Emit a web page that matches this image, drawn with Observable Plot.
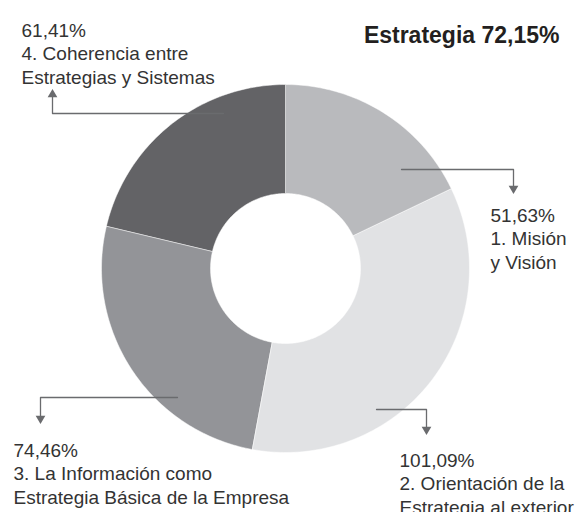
<!DOCTYPE html>
<html>
<head>
<meta charset="utf-8">
<script src="https://cdn.jsdelivr.net/npm/d3@7"></script>
<script src="https://cdn.jsdelivr.net/npm/@observablehq/plot@0.6"></script>
<style>
  html, body { margin: 0; padding: 0; background: #fff; }
  #chart svg { display: block; }
</style>
</head>
<body>
<div id="chart"></div>
<script>
// ---- data ----
const categories = [
  "1. Misión\ny Visión",
  "2. Orientación de la\nEstrategia al exterior",
  "3. La Información como\nEstrategia Básica de la Empresa",
  "4. Coherencia entre\nEstrategias y Sistemas"
];
const values = [51.63, 101.09, 74.46, 61.41];
const valueLabels = ["51,63%", "101,09%", "74,46%", "61,41%"];
const titleText = "Estrategia 72,15%";

// ---- styles / layout ----
const colors = ["#b9babd", "#e1e2e4", "#939498", "#636366"];
const W = 577, H = 512;
const cx = 285, cy = 268, R = 184, r0 = 75;
const FS = 19, LH = 1.24;
const leaderLayout = [
  {sx: 401, sy: 169, ex: 513, tipY: 192, dir: 1},
  {sx: 376, sy: 409, ex: 426, tipY: 433, dir: 1},
  {sx: 177, sy: 397, ex: 40,  tipY: 422, dir: 1},
  {sx: 223, sy: 113, ex: 52,  tipY: 90,  dir: -1}
];
const labelLayout = [
  {x: 490, base: 218},
  {x: 399, base: 463},
  {x: 13,  base: 453},
  {x: 21,  base: 33}
];

// ---- build slice polygons from the data ----
const pie = d3.pie().sort(null).value(d => d)(values);
const slicePts = [];
pie.forEach((p, i) => {
  const steps = Math.max(8, Math.ceil((p.endAngle - p.startAngle) / (Math.PI / 180)));
  const pts = [];
  for (let k = 0; k <= steps; k++) {
    const a = p.startAngle + (p.endAngle - p.startAngle) * k / steps;
    pts.push([cx + R * Math.sin(a), cy - R * Math.cos(a)]);
  }
  for (let k = steps; k >= 0; k--) {
    const a = p.startAngle + (p.endAngle - p.startAngle) * k / steps;
    pts.push([cx + r0 * Math.sin(a), cy - r0 * Math.cos(a)]);
  }
  pts.forEach(([x, y]) => slicePts.push({slice: i, x, y}));
});

const leaderPts = [];
const tips = [];
leaderLayout.forEach((l, i) => {
  leaderPts.push({id: i, x: l.sx, y: l.sy});
  leaderPts.push({id: i, x: l.ex, y: l.sy});
  leaderPts.push({id: i, x: l.ex, y: l.tipY - l.dir * 4});
  tips.push({x: l.ex, y: l.tipY - l.dir * 4, rot: l.dir > 0 ? 180 : 0});
});

const labels = categories.map((c, i) => ({
  x: labelLayout[i].x,
  y: labelLayout[i].base,
  text: valueLabels[i] + "\n" + c
}));

const chart = Plot.plot({
  width: W,
  height: H,
  margin: 0,
  x: {domain: [0, W], range: [0, W], axis: null},
  y: {domain: [0, H], range: [0, H], axis: null},
  style: {background: "#fff"},
  marks: [
    Plot.line(slicePts, {
      x: "x", y: "y", z: "slice",
      fill: d => colors[d.slice],
      stroke: "#fff", strokeWidth: 0.5, curve: "linear-closed"
    }),
    Plot.line(leaderPts, {x: "x", y: "y", z: "id", stroke: "#6a6b6e", strokeWidth: 1.3}),
    Plot.dot(tips, {x: "x", y: "y", symbol: "triangle", r: 3.6, fill: "#6a6b6e", rotate: "rot", stroke: null}),
    Plot.text(labels, {
      x: "x", y: "y", text: "text",
      textAnchor: "start", lineAnchor: "top", lineHeight: LH,
      fontSize: FS, fill: "#333", fontFamily: "Liberation Sans, Arial, sans-serif",
      dy: -0.71 * FS
    }),
    Plot.text([titleText], {
      x: () => 559, y: () => 42, text: d => d,
      textAnchor: "end", lineAnchor: "top",
      fontSize: 23, fontWeight: "bold", fill: "#231f20",
      fontFamily: "Liberation Sans, Arial, sans-serif",
      dy: -0.71 * 23
    })
  ]
});
document.getElementById("chart").appendChild(chart);
</script>
</body>
</html>
